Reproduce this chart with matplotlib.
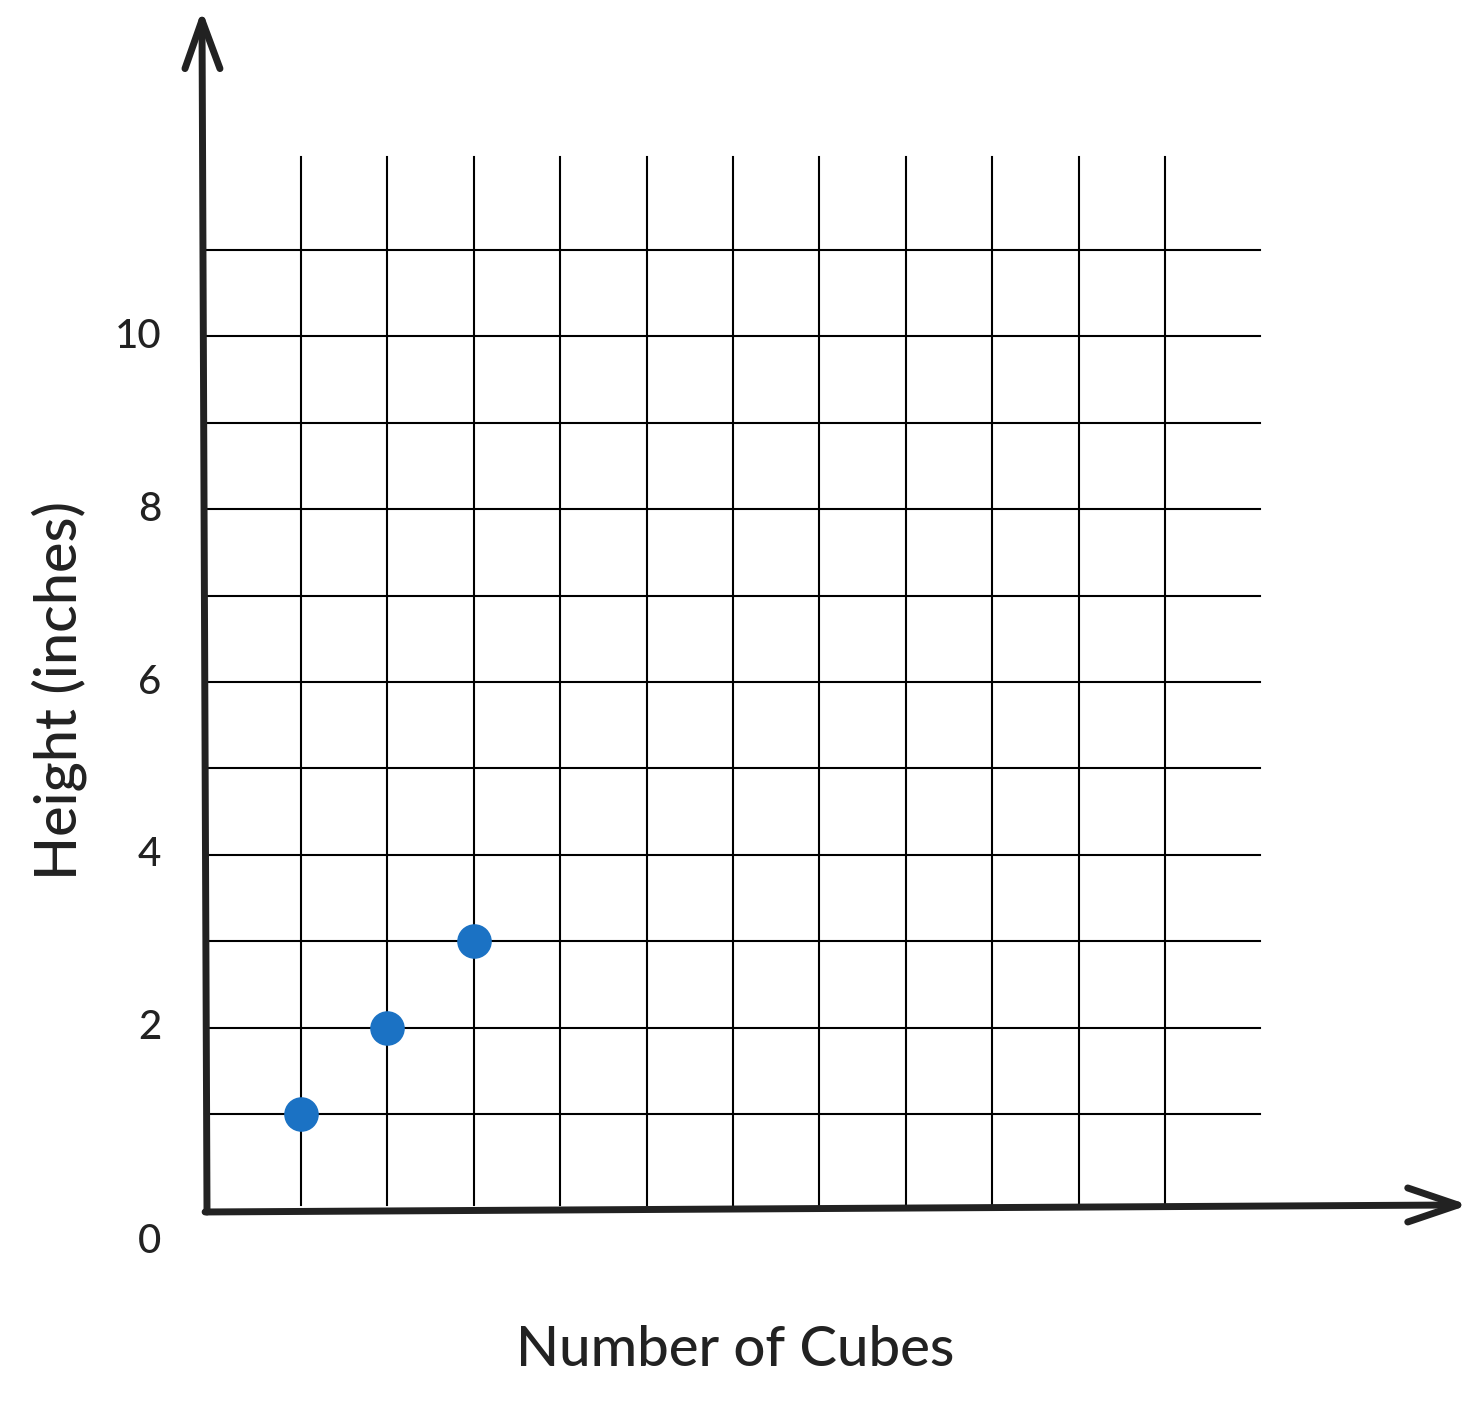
import matplotlib
matplotlib.use("Agg")
import matplotlib.pyplot as plt

# data
cubes = [1, 2, 3]
height = [1, 2, 3]
y_ticks = [0, 2, 4, 6, 8, 10]
grid_x = list(range(1, 12))
grid_y = list(range(1, 12))

plt.rcParams['font.family'] = ['Lato', 'DejaVu Sans']

fig = plt.figure(figsize=(14.76, 14.03), dpi=100)
ax = fig.add_axes([0, 0, 1, 1])
ax.set_xlim(-2.484, 14.60)
ax.set_ylim(-2.345, 13.894)
ax.axis('off')

ink = '#222222'

# grille
for gx in grid_x:
    ax.plot([gx, gx], [-0.05, 12.08], color='black', lw=1.5, zorder=1)
for gy in grid_y:
    ax.plot([-0.11, 12.1], [gy, gy], color='black', lw=1.5, zorder=1)

# axes dessinés à la main
ax.plot([-0.088, -0.146], [-0.134, 13.66], color=ink, lw=5,
        solid_capstyle='round', zorder=3)
ax.plot([-0.11, 14.39], [-0.134, -0.053], color=ink, lw=5,
        solid_capstyle='round', zorder=3)
# flèches
ax.plot([-0.343, -0.146, 0.062], [13.10, 13.66, 13.10], color=ink, lw=5,
        solid_capstyle='round', solid_joinstyle='round', zorder=3)
ax.plot([13.81, 14.39, 13.81], [0.144, -0.053, -0.25], color=ink, lw=5,
        solid_capstyle='round', solid_joinstyle='round', zorder=3)

# points
ax.scatter(cubes, height, s=620, color='#1b72c4', zorder=4, linewidths=0)

# étiquettes de l'axe y
for t in y_ticks:
    yy = t if t > 0 else -0.47
    ax.text(-0.62, yy, str(t), ha='right', va='center', fontsize=29,
            color=ink, fontweight='medium')

ax.text(6.02, -1.74, 'Number of Cubes', ha='center', va='center',
        fontsize=40.5, color=ink, fontweight='medium')
ax.text(-1.8, 5.90, 'Height (inches)', ha='center', va='center',
        rotation=90, fontsize=41.5, color=ink, fontweight='medium')

fig.savefig('out.png', dpi=100)
